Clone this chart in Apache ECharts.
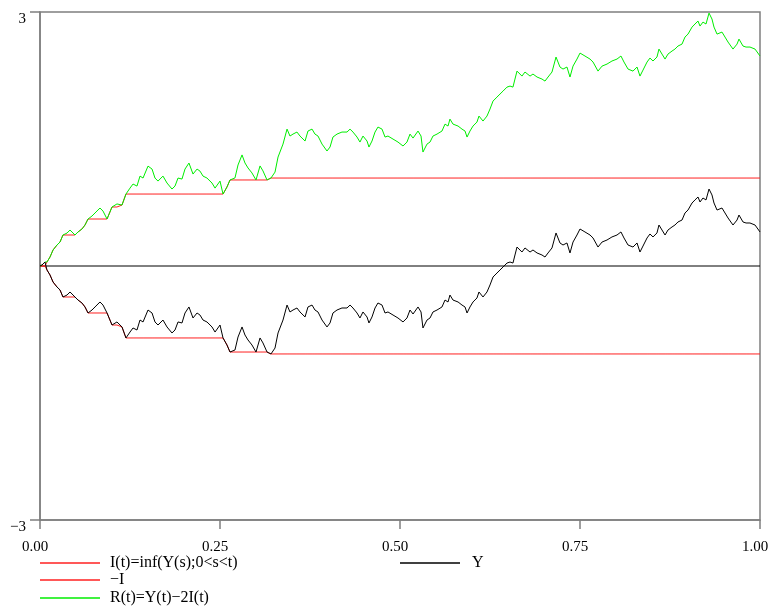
<!DOCTYPE html>
<html>
<head>
<meta charset="utf-8">
<script src="https://cdn.jsdelivr.net/npm/echarts@6/dist/echarts.min.js"></script>
<style>
html,body{margin:0;padding:0;background:#fff;}
#c{width:773px;height:612px;}
</style>
</head>
<body>
<div id="c"></div>
<script>
// time samples
var tVals = [0,0.0028,0.0069,0.0097,0.0139,0.0181,0.0236,0.0278,0.0319,0.0375,0.0417,0.0486,0.0528,0.0583,0.0625,0.0667,0.0722,0.0764,0.0833,0.0875,0.0931,0.1,0.1069,0.1139,0.1194,0.125,0.1292,0.1347,0.1389,0.1431,0.15,0.1556,0.1597,0.1639,0.1708,0.1764,0.1833,0.1875,0.1917,0.1972,0.2014,0.2069,0.2125,0.2181,0.2222,0.2264,0.2319,0.2389,0.2431,0.25,0.2542,0.2597,0.2639,0.2708,0.275,0.2806,0.2847,0.2889,0.2944,0.3,0.3056,0.3097,0.3153,0.3208,0.3264,0.3306,0.3375,0.3431,0.3472,0.3514,0.3569,0.3611,0.3681,0.3722,0.3778,0.3819,0.3861,0.3917,0.3986,0.4028,0.4069,0.4125,0.4194,0.4264,0.4306,0.4347,0.4403,0.4444,0.4486,0.4542,0.4569,0.4611,0.4653,0.4694,0.475,0.4792,0.4833,0.4903,0.4972,0.5042,0.5097,0.5139,0.5181,0.525,0.5292,0.5319,0.5375,0.5417,0.5458,0.5514,0.5583,0.5625,0.5667,0.5694,0.5736,0.5806,0.5861,0.5903,0.5931,0.5972,0.6014,0.6069,0.6097,0.6153,0.6208,0.625,0.6292,0.6347,0.6389,0.6431,0.6486,0.6528,0.6569,0.6597,0.6625,0.6694,0.6736,0.6806,0.6847,0.6903,0.6972,0.7014,0.7056,0.7111,0.7167,0.7222,0.7264,0.7319,0.7361,0.7403,0.7458,0.75,0.7569,0.7639,0.7681,0.775,0.7806,0.7875,0.7944,0.8014,0.8069,0.8111,0.8167,0.8236,0.8292,0.8333,0.8375,0.8431,0.8472,0.8514,0.8569,0.8597,0.8639,0.8681,0.8722,0.8778,0.8819,0.8861,0.8917,0.8958,0.9,0.9056,0.9097,0.9139,0.9167,0.9208,0.925,0.9292,0.9333,0.9361,0.9403,0.9472,0.9514,0.9556,0.9625,0.9681,0.9708,0.9764,0.9806,0.9861,0.9931,1];
// Brownian path Y(t)
var yVals = [0,0.012,0.047,-0.047,-0.106,-0.189,-0.248,-0.283,-0.366,-0.343,-0.307,-0.366,-0.402,-0.437,-0.484,-0.555,-0.520,-0.484,-0.425,-0.461,-0.555,-0.697,-0.661,-0.720,-0.850,-0.780,-0.732,-0.756,-0.638,-0.661,-0.520,-0.555,-0.661,-0.697,-0.638,-0.720,-0.791,-0.756,-0.661,-0.673,-0.555,-0.484,-0.614,-0.555,-0.579,-0.638,-0.661,-0.720,-0.780,-0.697,-0.850,-0.933,-1.016,-0.992,-0.839,-0.720,-0.815,-0.874,-0.933,-1.016,-0.850,-0.909,-1.016,-1.039,-0.969,-0.791,-0.638,-0.461,-0.543,-0.520,-0.496,-0.543,-0.602,-0.484,-0.461,-0.520,-0.543,-0.638,-0.720,-0.673,-0.555,-0.520,-0.496,-0.496,-0.461,-0.496,-0.555,-0.614,-0.543,-0.602,-0.673,-0.602,-0.496,-0.437,-0.461,-0.555,-0.543,-0.579,-0.614,-0.661,-0.614,-0.520,-0.567,-0.484,-0.543,-0.732,-0.638,-0.614,-0.543,-0.520,-0.484,-0.402,-0.425,-0.343,-0.402,-0.425,-0.461,-0.484,-0.555,-0.484,-0.425,-0.378,-0.307,-0.366,-0.307,-0.224,-0.130,-0.083,-0.047,-0.012,0.035,0.047,0.035,0.130,0.224,0.165,0.213,0.165,0.189,0.154,0.130,0.106,0.154,0.213,0.390,0.272,0.248,0.272,0.154,0.283,0.366,0.437,0.402,0.366,0.331,0.224,0.283,0.307,0.343,0.366,0.402,0.331,0.248,0.224,0.272,0.165,0.236,0.331,0.378,0.343,0.390,0.484,0.425,0.366,0.425,0.461,0.484,0.520,0.543,0.626,0.661,0.744,0.780,0.815,0.756,0.803,0.780,0.909,0.839,0.744,0.661,0.685,0.626,0.567,0.484,0.543,0.602,0.520,0.508,0.508,0.484,0.402];

var legendNames = ['I(t)=inf(Y(s);0<s<t)', '\u2212I', 'R(t)=Y(t)\u22122I(t)', 'Y'];
var xTicks = [0, 0.25, 0.5, 0.75, 1];
var yTicks = [-3, 3];

// build series tables from the read path
var yData = [], iData = [], negIData = [], rData = [];
var runMin = Infinity;
for (var k = 0; k < tVals.length; k++) {
  runMin = Math.min(runMin, yVals[k]);
  yData.push([tVals[k], yVals[k]]);
  iData.push([tVals[k], runMin]);
  negIData.push([tVals[k], -runMin]);
  rData.push([tVals[k], yVals[k] - 2 * runMin]);
}

var chart = echarts.init(document.getElementById('c'), null, {renderer: 'canvas'});
var serif = '"Liberation Serif", "DejaVu Serif", serif';
var axisGray = '#7f7f7f';
var lineBase = {type: 'line', showSymbol: false, symbol: 'none', animation: false, silent: true};

function oneLegend(name, left, top, pad) {
  return {
    data: [name], orient: 'horizontal', left: left, top: top,
    itemWidth: 60, itemHeight: 1.5, itemGap: 0, icon: 'rect', padding: 0,
    textStyle: {fontFamily: serif, fontSize: 16, color: '#000', padding: [0, 0, 0, pad]},
    selectedMode: false
  };
}

chart.setOption({
  animation: false,
  backgroundColor: '#ffffff',
  grid: {left: 40, right: 13, top: 12, bottom: 92, containLabel: false, outerBoundsMode: 'none',
    show: true, borderColor: axisGray, borderWidth: 1.5, backgroundColor: 'transparent'},
  xAxis: {
    type: 'value', min: 0, max: 1, interval: 0.25,
    splitLine: {show: false},
    axisLine: {show: true, onZero: false, lineStyle: {color: axisGray, width: 1.5}},
    axisTick: {show: true, length: 9, inside: false, lineStyle: {color: axisGray, width: 1.5}, customValues: xTicks},
    axisLabel: {customValues: xTicks, margin: 20, color: '#000', fontFamily: serif, fontSize: 15,
      padding: [0, 10, 0, 0],
      formatter: function (v) { return v.toFixed(2); }}
  },
  yAxis: {
    type: 'value', min: -3, max: 3,
    splitLine: {show: false},
    axisLine: {show: true, onZero: false, lineStyle: {color: axisGray, width: 1.5}},
    axisTick: {show: true, length: 10, lineStyle: {color: axisGray, width: 1.5}, customValues: yTicks},
    axisLabel: {customValues: yTicks, margin: 14, color: '#000', fontFamily: serif, fontSize: 15, lineHeight: 14,
      formatter: function (v) { return ' \n' + (v < 0 ? '\u2212' + Math.abs(v) : String(v)); }}
  },
  legend: [
    oneLegend(legendNames[0], 40, 555, 5),
    oneLegend(legendNames[1], 40, 572, 5),
    oneLegend(legendNames[2], 40, 590, 5),
    oneLegend(legendNames[3], 400, 555, 7)
  ],
  series: [
    Object.assign({}, lineBase, {name: 'zero', data: [[0, 0], [1, 0]], lineStyle: {color: '#000', width: 1}, itemStyle: {color: '#000'}, z: 2}),
    Object.assign({}, lineBase, {name: legendNames[0], data: iData, lineStyle: {color: '#ff2020', width: 1}, itemStyle: {color: '#ff2020'}, z: 3}),
    Object.assign({}, lineBase, {name: legendNames[1], data: negIData, lineStyle: {color: '#ff2020', width: 1}, itemStyle: {color: '#ff2020'}, z: 3}),
    Object.assign({}, lineBase, {name: legendNames[2], data: rData, lineStyle: {color: '#00ee00', width: 1}, itemStyle: {color: '#00ee00'}, z: 4}),
    Object.assign({}, lineBase, {name: legendNames[3], data: yData, lineStyle: {color: '#000', width: 1}, itemStyle: {color: '#000'}, z: 5})
  ]
});
</script>
</body>
</html>
